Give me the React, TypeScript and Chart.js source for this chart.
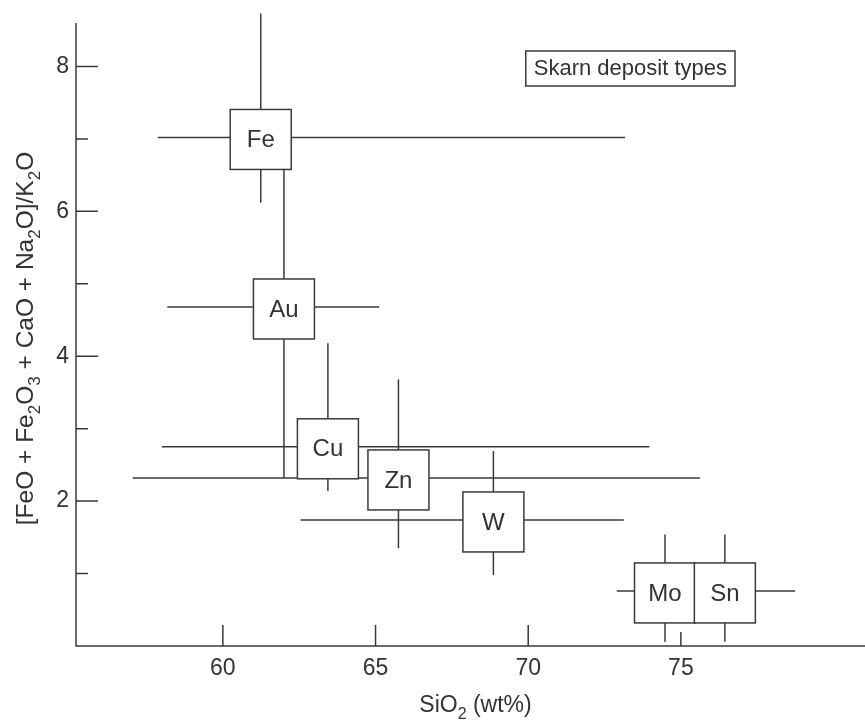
import React, { useEffect, useRef } from 'react';
import { Chart, registerables } from 'chart.js';

Chart.register(...registerables);

// ---- data ----
const depositTypes = ['Fe', 'Au', 'Cu', 'Zn', 'W', 'Mo', 'Sn'];
const sio2 = [61.24, 62.0, 63.44, 65.75, 68.86, 74.48, 76.44];
const ratio = [7.02, 4.68, 2.75, 2.32, 1.74, 0.76, 0.76];
const sio2Low = [57.87, 58.18, 58.0, 57.05, 62.55, 72.9, 74.5];
const sio2High = [73.17, 65.12, 73.97, 75.62, 73.13, 75.5, 78.74];
const ratioLow = [6.12, 2.32, 2.14, 1.35, 0.98, 0.06, 0.06];
const ratioHigh = [8.73, 6.58, 4.18, 3.68, 2.69, 1.54, 1.54];

const xTickValues = [60, 65, 70, 75];
const yMajorTicks = [2, 4, 6, 8];
const yMinorTicks = [1, 3, 5, 7];
const xMin = 55.19;
const xMax = 81.03;
const yMin = 0;
const yMax = 8.6;

const chartTitle = 'Skarn deposit types';
const xTitleParts: [string, boolean][] = [['SiO', false], ['2', true], [' (wt%)', false]];
const yTitleParts: [string, boolean][] = [
  ['[FeO + Fe', false], ['2', true], ['O', false], ['3', true],
  [' + CaO + Na', false], ['2', true], ['O]/K', false], ['2', true], ['O', false],
];

// ---- style ----
const FONT = '"Liberation Sans", Arial, Helvetica, sans-serif';
const INK = '#3a3a3a';
const TEXT = '#333333';
const LW = 1.5;

function drawRich(ctx: CanvasRenderingContext2D, parts: [string, boolean][], x: number, y: number, size: number, align: 'center' | 'left') {
  const sub = Math.round(size * 0.68);
  let total = 0;
  const widths = parts.map(([t, s]) => {
    ctx.font = `${s ? sub : size}px ${FONT}`;
    const w = ctx.measureText(t).width;
    total += w;
    return w;
  });
  let cx = align === 'center' ? x - total / 2 : x;
  ctx.textBaseline = 'alphabetic';
  ctx.textAlign = 'left';
  parts.forEach(([t, s], i) => {
    ctx.font = `${s ? sub : size}px ${FONT}`;
    ctx.fillText(t, cx, s ? y + size * 0.3 : y);
    cx += widths[i];
  });
}

const decorPlugin = {
  id: 'decor',
  beforeDatasetsDraw(chart: any) {
    const { ctx, chartArea: a, scales } = chart;
    const xs = scales.x, ys = scales.y;
    ctx.save();
    ctx.strokeStyle = INK;
    ctx.lineWidth = LW;
    ctx.lineCap = 'butt';
    ctx.beginPath();
    // axis lines
    ctx.moveTo(a.left, a.top);
    ctx.lineTo(a.left, a.bottom);
    ctx.lineTo(a.right, a.bottom);
    // y ticks (inward)
    yMajorTicks.forEach(v => {
      const p = ys.getPixelForValue(v);
      ctx.moveTo(a.left, p); ctx.lineTo(a.left + 22, p);
    });
    yMinorTicks.forEach(v => {
      const p = ys.getPixelForValue(v);
      ctx.moveTo(a.left, p); ctx.lineTo(a.left + 12, p);
    });
    // x ticks (inward)
    xTickValues.forEach(v => {
      const p = xs.getPixelForValue(v);
      const len = v === 75 ? 14 : 21;
      ctx.moveTo(p, a.bottom); ctx.lineTo(p, a.bottom - len);
    });
    ctx.stroke();
    ctx.restore();
  },
  afterDatasetsDraw(chart: any) {
    const { ctx, chartArea: a, scales } = chart;
    const xs = scales.x, ys = scales.y;
    ctx.save();
    // label boxes
    depositTypes.forEach((lab, i) => {
      const px = xs.getPixelForValue(sio2[i]);
      const py = ys.getPixelForValue(ratio[i]) + 2;
      const w = 61, h = 60;
      ctx.fillStyle = '#ffffff';
      ctx.fillRect(px - w / 2, py - h / 2, w, h);
      ctx.strokeStyle = INK;
      ctx.lineWidth = LW;
      ctx.strokeRect(px - w / 2, py - h / 2, w, h);
    });
    depositTypes.forEach((lab, i) => {
      const px = xs.getPixelForValue(sio2[i]);
      const py = ys.getPixelForValue(ratio[i]) + 2;
      ctx.fillStyle = TEXT;
      ctx.font = `24px ${FONT}`;
      ctx.textAlign = 'center';
      ctx.textBaseline = 'middle';
      ctx.fillText(lab, px, py + 1);
    });
    // title box
    ctx.font = `22px ${FONT}`;
    const tw = ctx.measureText(chartTitle).width;
    const right = 735, top = 51, bh = 35;
    const left = right - tw - 16;
    ctx.fillStyle = '#ffffff';
    ctx.fillRect(left, top, right - left, bh);
    ctx.strokeStyle = INK;
    ctx.lineWidth = LW;
    ctx.strokeRect(left, top, right - left, bh);
    ctx.fillStyle = TEXT;
    ctx.textAlign = 'left';
    ctx.textBaseline = 'alphabetic';
    ctx.fillText(chartTitle, left + 8, top + 24);
    // axis titles
    ctx.fillStyle = TEXT;
    drawRich(ctx, xTitleParts, (a.left + a.right) / 2 + 5, 712, 23, 'center');
    ctx.save();
    ctx.translate(33, (a.top + a.bottom) / 2 + 4);
    ctx.rotate(-Math.PI / 2);
    drawRich(ctx, yTitleParts, 0, 0, 24.5, 'center');
    ctx.restore();
    ctx.restore();
  },
};

export default function App() {
  const ref = useRef<HTMLCanvasElement | null>(null);
  useEffect(() => {
    if (!ref.current) return;
    const datasets: any[] = [];
    depositTypes.forEach((lab, i) => {
      const common = {
        showLine: true,
        pointRadius: 0,
        borderColor: INK,
        borderWidth: LW,
        clip: false,
        fill: false,
      };
      datasets.push({
        ...common,
        label: lab + ' SiO2 range',
        data: [{ x: sio2Low[i], y: ratio[i] }, { x: sio2High[i], y: ratio[i] }],
      });
      datasets.push({
        ...common,
        label: lab + ' ratio range',
        data: [{ x: sio2[i], y: ratioLow[i] }, { x: sio2[i], y: ratioHigh[i] }],
      });
    });
    const tickFont = { family: FONT, size: 23 };
    const chart = new Chart(ref.current, {
      type: 'scatter',
      data: { datasets },
      options: {
        animation: false,
        responsive: false,
        maintainAspectRatio: false,
        layout: { padding: { top: 23, right: 0, left: 0, bottom: 0 } },
        plugins: { legend: { display: false }, tooltip: { enabled: false } },
        scales: {
          x: {
            type: 'linear',
            min: xMin,
            max: xMax,
            afterBuildTicks: (s: any) => { s.ticks = xTickValues.map(v => ({ value: v })); },
            afterFit: (s: any) => { s.height = 80; },
            grid: { display: false, drawTicks: false },
            border: { display: false },
            ticks: { font: tickFont, color: TEXT, padding: 9, maxRotation: 0, autoSkip: false },
          },
          y: {
            type: 'linear',
            min: yMin,
            max: yMax,
            afterBuildTicks: (s: any) => { s.ticks = yMajorTicks.map(v => ({ value: v })); },
            afterFit: (s: any) => { s.width = 76; },
            grid: { display: false, drawTicks: false },
            border: { display: false },
            ticks: { font: tickFont, color: TEXT, padding: 7, autoSkip: false },
          },
        },
      },
      plugins: [decorPlugin],
    } as any);
    return () => chart.destroy();
  }, []);
  return (
    <div style={{ position: 'absolute', left: 0, top: 0, width: 865, height: 726, background: '#fff' }}>
      <canvas ref={ref} width={865} height={726} />
    </div>
  );
}
